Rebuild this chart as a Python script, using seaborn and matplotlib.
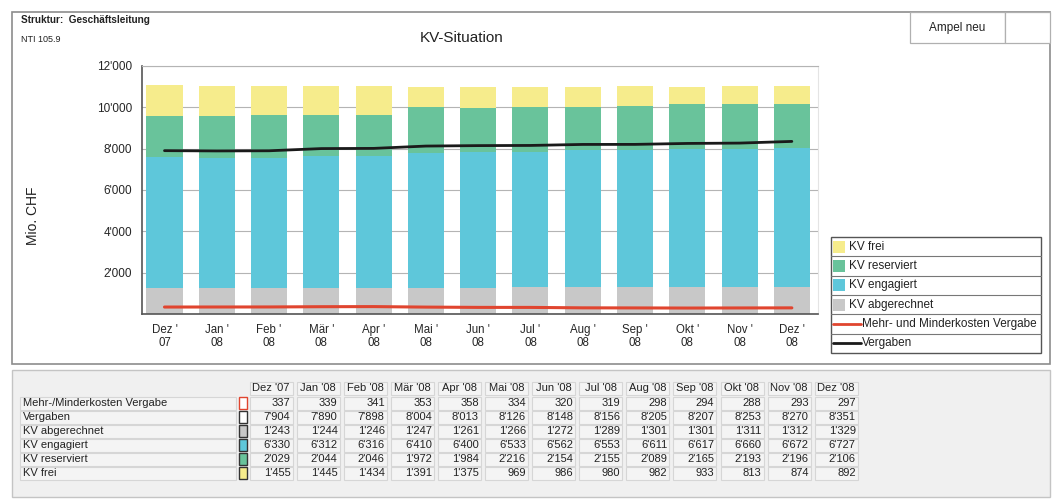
import numpy as np
import pandas as pd
import matplotlib
matplotlib.use("Agg")
import matplotlib.pyplot as plt
from matplotlib.patches import Rectangle
from matplotlib.lines import Line2D
import seaborn as sns

# ---------------- data ----------------
months = ["Dez", "Jan", "Feb", "Mär", "Apr", "Mai", "Jun", "Jul", "Aug", "Sep", "Okt", "Nov", "Dez"]
years = ["07", "08", "08", "08", "08", "08", "08", "08", "08", "08", "08", "08", "08"]
mehr_minder = [337, 339, 341, 353, 358, 334, 320, 319, 298, 294, 288, 293, 297]
vergaben = [7904, 7890, 7898, 8004, 8013, 8126, 8148, 8156, 8205, 8207, 8253, 8270, 8351]
kv_abgerechnet = [1243, 1244, 1246, 1247, 1261, 1266, 1272, 1289, 1301, 1301, 1311, 1312, 1329]
kv_engagiert = [6330, 6312, 6316, 6410, 6400, 6533, 6562, 6553, 6611, 6617, 6660, 6672, 6727]
kv_reserviert = [2029, 2044, 2046, 1972, 1984, 2216, 2154, 2155, 2089, 2165, 2193, 2196, 2106]
kv_frei = [1455, 1445, 1434, 1391, 1375, 969, 986, 980, 982, 933, 813, 874, 892]
y_ticks = [0, 2000, 4000, 6000, 8000, 10000, 12000]

C_FREI = "#f6ec8c"
C_RES = "#69c39b"
C_ENG = "#5ec7da"
C_ABG = "#c8c8c8"
C_RED = "#e0452f"
C_BLK = "#1a1a1a"

W, H = 1054, 501
FONT = ["Liberation Sans", "DejaVu Sans"]

sns.set_theme(style="white")
plt.rcParams["font.family"] = FONT
plt.rcParams["text.color"] = "#222222"

fig = plt.figure(figsize=(W / 100, H / 100), dpi=100)
fig.patch.set_facecolor("white")

# background axes in pixel coordinates
bg = fig.add_axes([0, 0, 1, 1], zorder=0)
bg.set_xlim(0, W)
bg.set_ylim(H, 0)
bg.axis("off")


def fmt(v):
    return f"{v:,}".replace(",", "'")


# outer frame of the chart panel
bg.add_patch(Rectangle((12, 12), 1038, 352, fill=False, ec="#8c8c8c", lw=1.2))
# tab boxes
bg.add_patch(Rectangle((910, 12), 95, 31, fc="white", ec="#b0b0b0", lw=0.9))
bg.add_patch(Rectangle((1005, 12), 45, 31, fc="white", ec="#b0b0b0", lw=0.9))
bg.text(957, 27.5, "Ampel neu", ha="center", va="center", fontsize=8.5)

bg.text(21, 20, "Struktur:  Geschäftsleitung", ha="left", va="center", fontsize=7.2, fontweight="bold")
bg.text(21, 39, "NTI 105.9", ha="left", va="center", fontsize=6.5)
bg.text(462, 38, "KV-Situation", ha="center", va="center", fontsize=11)
bg.text(33, 216, "Mio. CHF", ha="center", va="center", rotation=90, fontsize=10)

# ---------------- main chart ----------------
L, R, T, B = 142, 818, 66, 314
ax = fig.add_axes([L / W, 1 - B / H, (R - L) / W, (B - T) / H], zorder=2)
ax.set_facecolor("white")

labels = [f"{m} '\n{y}" for m, y in zip(months, years)]
df = pd.DataFrame({
    "cat": labels,
    "abg": kv_abgerechnet,
    "eng": kv_engagiert,
    "res": kv_reserviert,
    "frei": kv_frei,
})
b1 = np.array(kv_abgerechnet)
b2 = b1 + np.array(kv_engagiert)
b3 = b2 + np.array(kv_reserviert)

common = dict(x="cat", order=labels, width=0.69, saturation=1, errorbar=None,
              ax=ax, linewidth=0, zorder=2)
sns.barplot(data=df, y="abg", color=C_ABG, **common)
sns.barplot(data=df, y="eng", color=C_ENG, bottom=b1, **common)
sns.barplot(data=df, y="res", color=C_RES, bottom=b2, **common)
sns.barplot(data=df, y="frei", color=C_FREI, bottom=b3, **common)

xpos = np.arange(len(labels))
sns.lineplot(x=xpos, y=mehr_minder, color=C_RED, lw=2.2, ax=ax, zorder=4)
sns.lineplot(x=xpos, y=vergaben, color=C_BLK, lw=2.0, ax=ax, zorder=4)

ax.set_xlim(-0.43, 12.5)
ax.set_ylim(0, 12000)
ax.set_yticks(y_ticks)
ax.set_yticklabels(["" if v == 0 else fmt(v) for v in y_ticks], fontsize=8.5)
ax.yaxis.grid(True, color="#b4b4b4", lw=0.8)
ax.set_axisbelow(True)
ax.set_xticks(xpos)
ax.set_xticklabels(labels, fontsize=8.3, linespacing=1.1)
ax.set_xticks(np.arange(13) + 0.5, minor=True)
ax.tick_params(axis="x", which="major", length=0, pad=7)
ax.tick_params(axis="x", which="minor", length=5, direction="inout", color="#555555", width=1)
ax.tick_params(axis="y", which="major", length=6, direction="inout", color="#555555", width=1, pad=4)
ax.set_xlabel("")
ax.set_ylabel("")
for s in ["left", "bottom"]:
    ax.spines[s].set_color("#555555")
    ax.spines[s].set_linewidth(1.2)
ax.spines["top"].set_color("#b4b4b4")
ax.spines["top"].set_linewidth(0.8)
ax.spines["right"].set_color("#e4e4e4")
ax.spines["right"].set_linewidth(0.8)

# ---------------- legend box ----------------
lx0, lx1, ly0, ly1 = 831, 1041, 237, 353
bg.add_patch(Rectangle((lx0, ly0), lx1 - lx0, ly1 - ly0, fc="white", ec="#555555", lw=1.0, zorder=3))
leg_items = [("KV frei", C_FREI, "patch"), ("KV reserviert", C_RES, "patch"),
             ("KV engagiert", C_ENG, "patch"), ("KV abgerechnet", C_ABG, "patch"),
             ("Mehr- und Minderkosten Vergabe", C_RED, "line"), ("Vergaben", C_BLK, "line")]
rh = (ly1 - ly0) / len(leg_items)
for i, (name, col, kind) in enumerate(leg_items):
    yc = ly0 + rh * (i + 0.5)
    if i > 0:
        bg.add_line(Line2D([lx0, lx1], [ly0 + rh * i] * 2, color="#777777", lw=0.8, zorder=4))
    if kind == "patch":
        bg.add_patch(Rectangle((833, yc - 6), 12, 12, fc=col, ec="none", zorder=4))
        bg.text(849, yc, name, ha="left", va="center", fontsize=8.5, zorder=5)
    else:
        bg.add_line(Line2D([833, 861], [yc, yc], color=col, lw=2, zorder=4))
        bg.text(862, yc, name, ha="left", va="center", fontsize=8.5, zorder=5)

# ---------------- data table ----------------
bg.add_patch(Rectangle((12, 370), 1038, 127, fc="#f0f0f0", ec="#c4c4c4", lw=1.0, zorder=1))
rows = [("Mehr-/Minderkosten Vergabe", mehr_minder, "white", C_RED),
        ("Vergaben", vergaben, "white", "#333333"),
        ("KV abgerechnet", kv_abgerechnet, C_ABG, "#333333"),
        ("KV engagiert", kv_engagiert, C_ENG, "#333333"),
        ("KV reserviert", kv_reserviert, C_RES, "#333333"),
        ("KV frei", kv_frei, C_FREI, "#333333")]
col_x = 271 + 47.1 * np.arange(len(months))
cell_w, cell_h = 43, 13
hy = 388
for cx, m, y in zip(col_x, months, years):
    bg.add_patch(Rectangle((cx - cell_w / 2, hy - cell_h / 2), cell_w, cell_h,
                           fc="#f4f4f4", ec="#d6d6d6", lw=0.8, zorder=2))
    bg.text(cx, hy, f"{m} '{y}", ha="center", va="center", fontsize=8, zorder=3)
for j, (name, vals, fc, ec) in enumerate(rows):
    ry = 403 + 14 * j
    bg.add_patch(Rectangle((20, ry - cell_h / 2), 216, cell_h, fc="#f4f4f4", ec="#d6d6d6", lw=0.8, zorder=2))
    bg.text(23, ry, name, ha="left", va="center", fontsize=8, zorder=3)
    bg.add_patch(Rectangle((239, ry - 6), 8, 12, fc=fc, ec=ec, lw=1.0, zorder=3))
    for cx, v in zip(col_x, vals):
        bg.add_patch(Rectangle((cx - cell_w / 2, ry - cell_h / 2), cell_w, cell_h,
                               fc="#f4f4f4", ec="#d6d6d6", lw=0.8, zorder=2))
        bg.text(cx + cell_w / 2 - 2, ry, fmt(v), ha="right", va="center", fontsize=8, zorder=3)

fig.savefig("out.png", dpi=100, facecolor="white")
